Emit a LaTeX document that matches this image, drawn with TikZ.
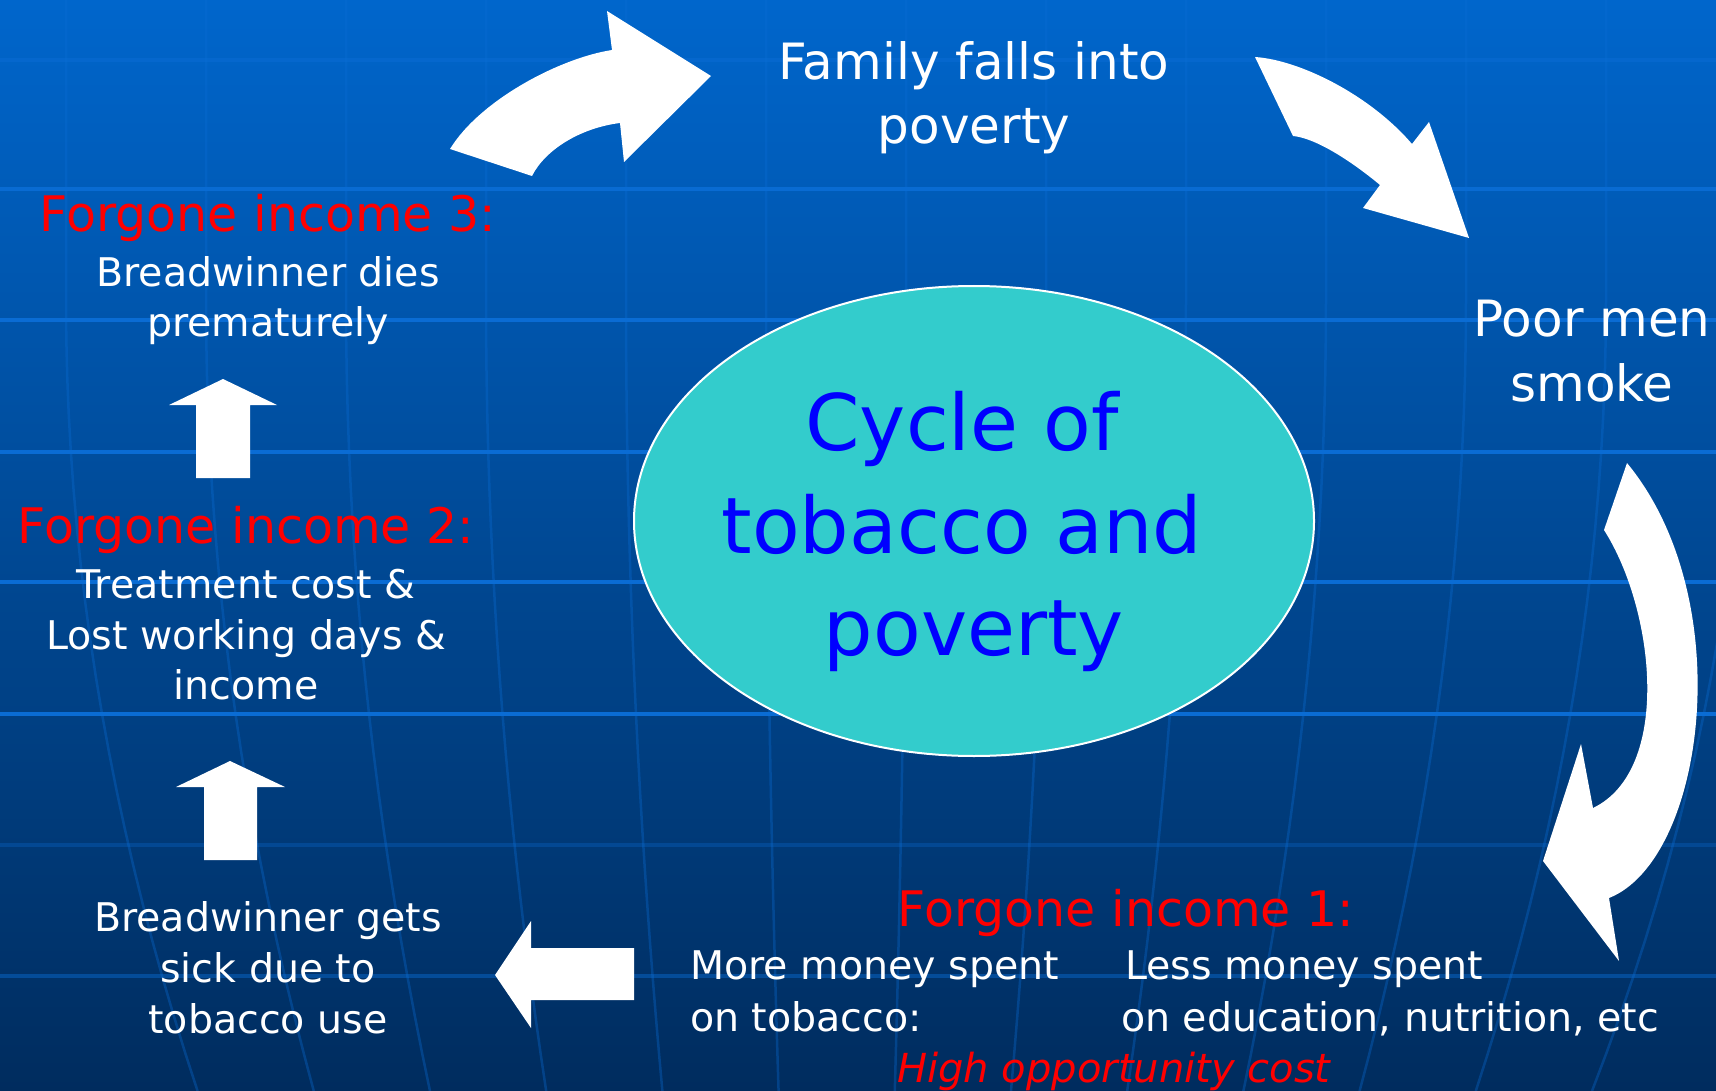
\documentclass[tikz,border=0pt]{standalone}
\usepackage{fontspec}
\setmainfont{DejaVu Sans}
\usetikzlibrary{shapes.geometric}
\definecolor{bgtop}{RGB}{0,102,204}
\definecolor{bgmid}{RGB}{0,78,156}
\definecolor{bgbot}{RGB}{0,44,94}
\definecolor{gridblue}{RGB}{10,108,212}
\definecolor{turq}{RGB}{51,204,204}
\definecolor{txtred}{RGB}{255,0,0}
\definecolor{txtblue}{RGB}{0,0,255}
\begin{document}
\begin{tikzpicture}[x=1pt,y=-1pt,
  bodytext/.style={text=white,font=\fontsize{39.5}{48}\selectfont,inner sep=0pt,anchor=base},
  headtext/.style={text=txtred,font=\fontsize{49}{58}\selectfont,inner sep=0pt,anchor=base},
  bigtext/.style={text=white,font=\fontsize{50}{60}\selectfont,inner sep=0pt,anchor=base},
  titletext/.style={text=txtblue,font=\fontsize{78}{94}\selectfont,inner sep=0pt,anchor=base},
  blockarrow/.style={fill=white,draw=none},
  gridline/.style={draw=gridblue,line width=4pt},
  meridian/.style={draw=gridblue,line width=2.5pt,opacity=0.35}]

\useasboundingbox (0,0) rectangle (1716,1091);
\shade[top color=bgtop,middle color=bgmid,bottom color=bgbot] (0,0) rectangle (1716,1091);

\begin{scope}
  \clip (0,0) rectangle (1716,1091);
  \foreach \d in {-774,-634,-494,-354,-214,-74,66,206,346,486,626,766,906}{
    \draw[meridian] plot[domain=0:1091,samples=30,variable=\t]
      ({840+\d*(1-0.17*(max(0,\t-300)/791)^2)},\t);
  }
  \foreach \yy/\op in {60/0.5,189/0.95,320/1,452/1,582/1,714/1,845/0.3,976/0.45}{
    \draw[gridline,opacity=\op] (0,\yy) -- (1716,\yy);
  }
\end{scope}

% central ellipse
\node (cycle) [ellipse,draw=white,line width=2pt,fill=turq,
  minimum width=680pt,minimum height=470pt,inner sep=0pt] at (974,521) {};

% block arrows
\fill[blockarrow] (450,149) -- (532,176) .. controls (545,150) and (580,128) .. (620,123)
  -- (624,162) -- (711,76) -- (607,11) -- (612,50)
  .. controls (560,58) and (480,100) .. (450,149) -- cycle;
\fill[blockarrow] (1255,57) -- (1293,136) .. controls (1315,138) and (1350,160) .. (1380,185)
  -- (1363,208) -- (1469,238) -- (1429,122) -- (1412,144)
  .. controls (1370,95) and (1300,60) .. (1255,57) -- cycle;
\fill[blockarrow] (1627,463) -- (1604,530) .. controls (1655,610) and (1672,770) .. (1593,808)
  -- (1581,744) -- (1543,861) -- (1619,961) -- (1609,898)
  .. controls (1705,860) and (1740,600) .. (1627,463) -- cycle;
\fill[blockarrow] (223,379) -- (277,405) -- (250,405) -- (250,478) -- (196,478) -- (196,405) -- (169,405) -- cycle;
\fill[blockarrow] (230,761) -- (285,787) -- (257,787) -- (257,860) -- (204,860) -- (204,787) -- (176,787) -- cycle;
\fill[blockarrow] (495,975) -- (531,921) -- (531,948) -- (634,948) -- (634,1000) -- (531,1000) -- (531,1028) -- cycle;

% texts
\node[bigtext] (fam1) at (974,80) {Family falls into};
\node[bigtext] (fam2) at (974,144) {poverty};
\node[bigtext] (poor1) at (1592,336) {Poor men};
\node[bigtext] (poor2) at (1592,401) {smoke};
\node[titletext] (cyc1) at (962,450) {Cycle of};
\node[titletext] (cyc2) at (962,553) {tobacco and};
\node[titletext] (cyc3) at (974,655) {poverty};
\node[headtext] (fi3) at (268,232) {Forgone income 3:};
\node[bodytext] (fi3a) at (268,287) {Breadwinner dies};
\node[bodytext] (fi3b) at (268,337) {prematurely};
\node[headtext] (fi2) at (246,543) {Forgone income 2:};
\node[bodytext] (fi2a) at (246,598) {Treatment cost \&};
\node[bodytext] (fi2b) at (246,649) {Lost working days \&};
\node[bodytext] (fi2c) at (246,699) {income};
\node[bodytext] (sick1) at (268,931) {Breadwinner gets};
\node[bodytext] (sick2) at (268,982) {sick due to};
\node[bodytext] (sick3) at (268,1033) {tobacco use};
\node[headtext] (fi1) at (1126,926) {Forgone income 1:};
\node[bodytext,anchor=base west] (more1) at (690,979) {More money spent};
\node[bodytext,anchor=base west] (more2) at (690,1031) {on tobacco:};
\node[bodytext,anchor=base west] (less1) at (1125,979) {Less money spent};
\node[bodytext,anchor=base west] (less2) at (1121,1031) {on education, nutrition, etc};
\node[bodytext,anchor=base west,text=txtred,font=\fontsize{40}{48}\selectfont\itshape] (opp) at (897,1082) {High opportunity cost};
\end{tikzpicture}
\end{document}
